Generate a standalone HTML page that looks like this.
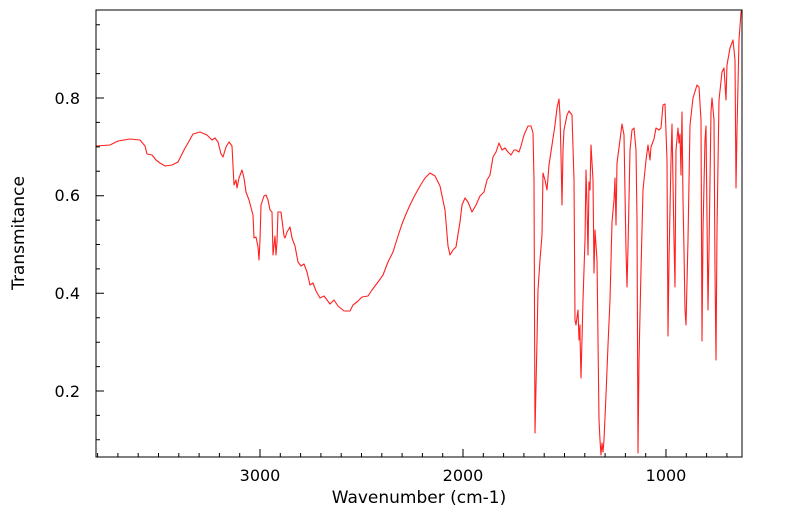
<!DOCTYPE html>
<html><head><meta charset="utf-8"><style>body{margin:0;background:#fff}svg{display:block;font-family:"DejaVu Sans","Liberation Sans",sans-serif}</style></head>
<body>
<svg width="799" height="516" viewBox="0 0 799 516" xmlns="http://www.w3.org/2000/svg">
<rect width="799" height="516" fill="#fff"/>
<polyline fill="none" stroke="#ff2020" stroke-width="1.1" stroke-linejoin="round" points="96,146 110,145 118,141 130,139 140,140 145,146 147,154 152,155 156,160 160,163 165,166 172,165 178,162 184,150 188,143 193,134 200,132 207,135 212,140 215,138 218,142 221,154 223,157 226,147 229,142 232,146 234,185 236,180 237,188 239,178 242,170 244,178 246,192 249,200 253,215 254,238 256,237 258,247 259,260 260,240 261,205 264,196 266,195 268,200 270,210 272,212 273,255 275,236 276,255 277,242 278,212 281,212 284,236 285,238 287,232 290,227 292,238 295,246 298,262 301,266 304,264 307,272 310,285 313,283 316,291 320,298 324,296 327,300 330,304 334,300 338,306 344,311 350,311 353,305 357,302 362,297 368,296 372,290 378,282 383,275 388,262 393,252 398,236 402,224 406,214 410,205 415,195 420,186 425,178 430,173 435,176 440,186 445,210 448,246 450,255 453,250 456,247 460,222 462,205 465,198 468,202 472,212 476,205 480,196 484,192 487,180 490,175 493,157 496,152 499,143 502,150 505,148 508,152 511,155 514,150 516,150 519,152 521,146 524,135 528,126 531,126 533,133 534,180 535,433 537,340 538,290 540,260 542,235 543,173 545,180 547,190 549,165 552,145 555,125 557,108 559,99 560,115 561,155 562,205 563,150 564,130 567,115 569,111 572,115 574,180 575,320 576,325 578,310 579,340 580,325 580,335 581,378 583,300 585,240 586,170 587,205 588,255 589,182 590,190 591,145 593,180 594,273 595,230 597,260 598,340 599,420 600,440 601,455 602,443 603,452 604,440 606,395 608,345 610,300 612,222 614,200 615,178 616,225 617,163 620,140 622,124 624,135 626,250 627,287 628,248 630,150 632,130 634,128 636,150 637,220 638,453 639,360 641,270 643,190 646,160 648,145 650,160 651,147 654,139 656,128 659,130 661,128 663,105 665,104 667,160 668,336 669,260 671,160 672,124 674,240 675,287 676,150 678,128 679,143 680,134 681,175 682,112 683,200 684,250 685,310 686,325 688,240 690,125 693,98 697,85 699,87 701,120 702,341 703,230 705,140 706,126 708,310 709,250 711,112 712,98 714,120 715,270 716,360 717,230 719,100 722,72 724,68 726,100 727,65 730,48 733,40 735,60 736,188 737,130 739,40 741,12 742,10"/>
<rect x="96" y="10" width="646" height="447" fill="none" stroke="#000" stroke-width="1"/>
<path stroke="#000" stroke-width="1" fill="none" d="
M97.6,457v-4 M117.9,457v-4 M138.2,457v-4 M158.5,457v-4 M178.8,457v-4 M199.1,457v-4 M219.4,457v-4 M239.7,457v-4 M260,457v-8 M280.3,457v-4 M300.6,457v-4 M320.9,457v-4 M341.2,457v-4 M361.5,457v-4 M381.8,457v-4 M402.1,457v-4 M422.4,457v-4 M442.7,457v-4 M463,457v-8 M483.3,457v-4 M503.6,457v-4 M523.9,457v-4 M544.2,457v-4 M564.5,457v-4 M584.8,457v-4 M605.1,457v-4 M625.4,457v-4 M645.7,457v-4 M666,457v-8 M686.3,457v-4 M706.6,457v-4 M726.9,457v-4
M96,439.8h4 M96,415.4h4 M96,391h8 M96,366.6h4 M96,342.2h4 M96,317.8h4 M96,293.3h8 M96,268.9h4 M96,244.5h4 M96,220.1h4 M96,195.7h8 M96,171.3h4 M96,146.9h4 M96,122.4h4 M96,98h8 M96,73.6h4 M96,49.2h4 M96,24.8h4"/>
<g font-size="16" fill="#000">
<text x="260" y="481" text-anchor="middle">3000</text>
<text x="463" y="481" text-anchor="middle">2000</text>
<text x="666" y="481" text-anchor="middle">1000</text>
<text x="80" y="104" text-anchor="end">0.8</text>
<text x="80" y="201" text-anchor="end">0.6</text>
<text x="80" y="299" text-anchor="end">0.4</text>
<text x="80" y="397" text-anchor="end">0.2</text>
<text x="419" y="503" text-anchor="middle" font-size="17">Wavenumber (cm-1)</text>
<text transform="translate(24,233) rotate(-90)" text-anchor="middle" font-size="17">Transmitance</text>
</g>
</svg>
</body></html>
